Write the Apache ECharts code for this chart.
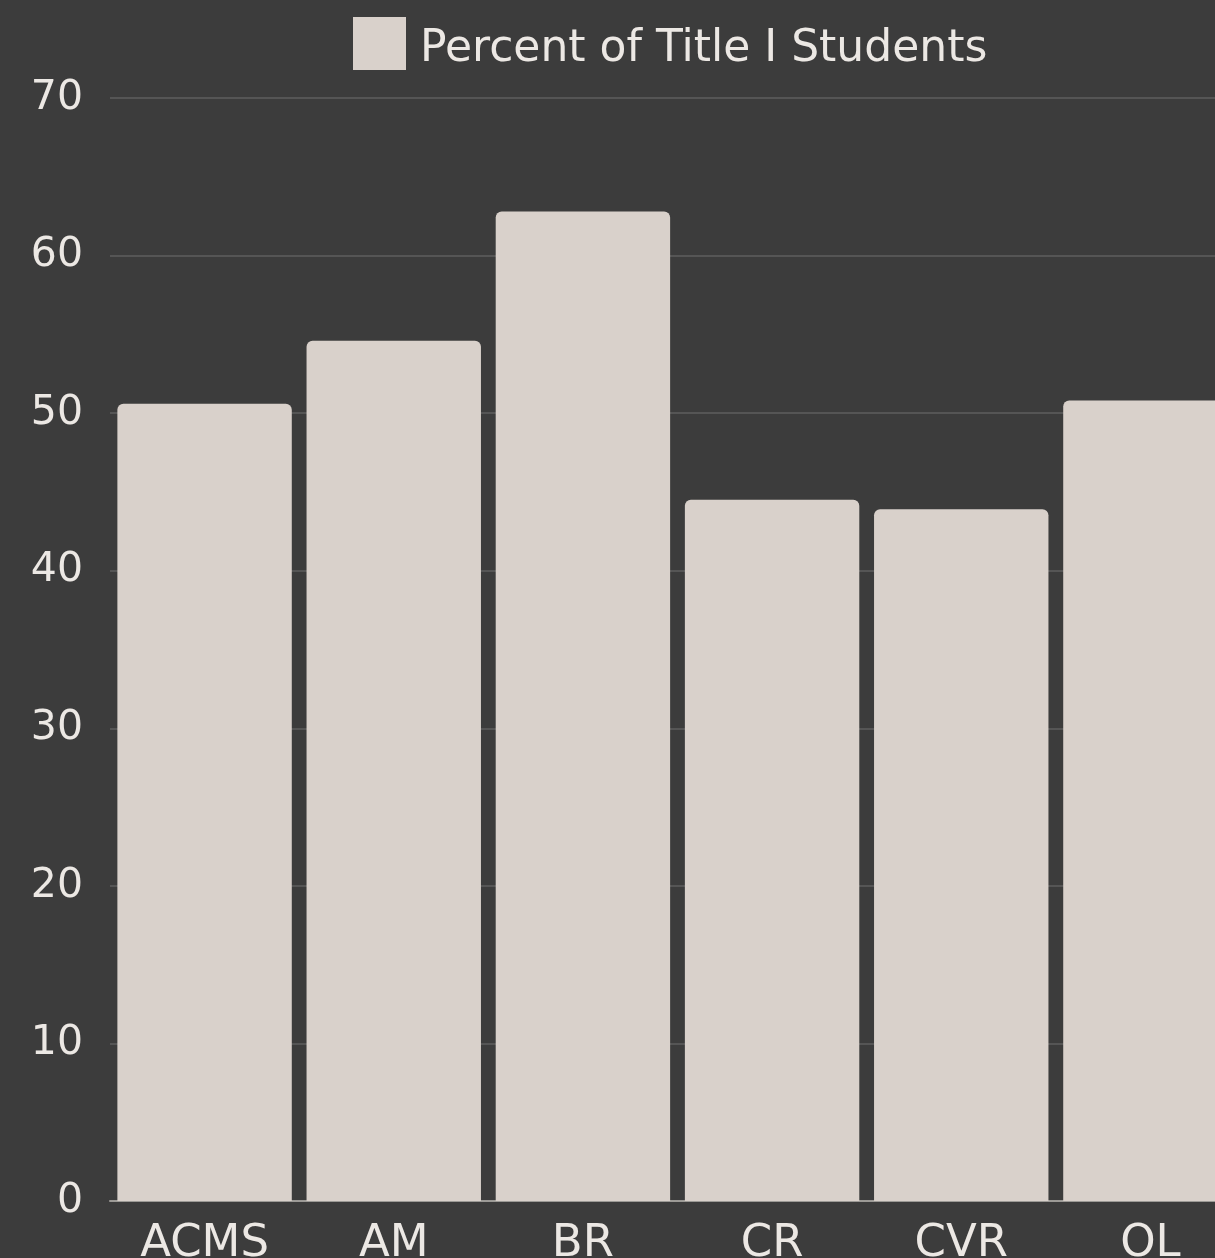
<!DOCTYPE html>
<html><head><meta charset="utf-8">
<script src="https://cdn.jsdelivr.net/npm/echarts@6/dist/echarts.min.js"></script>
<style>html,body{margin:0;padding:0;background:#3c3c3c;overflow:hidden;}#c{width:1245px;height:1258px;}</style>
</head><body><div id="c"></div>
<script>
const categories = ["ACMS", "AM", "BR", "CR", "CVR", "OL"];
const seriesName = "Percent of Title I Students";
const values = [50.6, 54.6, 62.8, 44.5, 43.9, 50.8];
const yTicks = { min: 0, max: 70, interval: 10 };

const FONT = "DejaVu Sans";
const chart = echarts.init(document.getElementById('c'), null, { renderer: 'canvas' });
chart.setOption({
  backgroundColor: '#3c3c3c',
  animation: false,
  textStyle: { fontFamily: FONT },
  legend: {
    top: 17, left: 353, padding: 0,
    itemWidth: 53, itemHeight: 53,
    icon: 'rect',
    formatter: '{t|{name}}',
    textStyle: {
      color: '#ece8e4', fontSize: 44, fontFamily: FONT,
      rich: { t: { color: '#ece8e4', fontSize: 44, fontFamily: FONT, padding: [12, 0, 0, 9] } }
    },
    data: [seriesName]
  },
  grid: { left: 110, right: 0, top: 98, bottom: 57, containLabel: false, outerBoundsMode: 'none' },
  xAxis: {
    type: 'category',
    data: categories,
    axisLine: { show: true, lineStyle: { color: '#9c9a96', width: 2 } },
    axisTick: { show: false },
    axisLabel: { color: '#ece8e4', fontSize: 45, fontFamily: FONT, margin: 21 }
  },
  yAxis: {
    type: 'value',
    min: yTicks.min, max: yTicks.max, interval: yTicks.interval,
    axisLine: { show: false },
    axisTick: { show: false },
    axisLabel: { color: '#ece8e4', fontSize: 41, fontFamily: FONT, margin: 27 },
    splitLine: { lineStyle: { color: '#555555', width: 2 } }
  },
  series: [{
    name: seriesName,
    type: 'bar',
    data: values,
    barCategoryGap: '7.8%',
    itemStyle: { color: '#d9d1cb', borderRadius: [6, 6, 0, 0] }
  }]
});
</script></body></html>
